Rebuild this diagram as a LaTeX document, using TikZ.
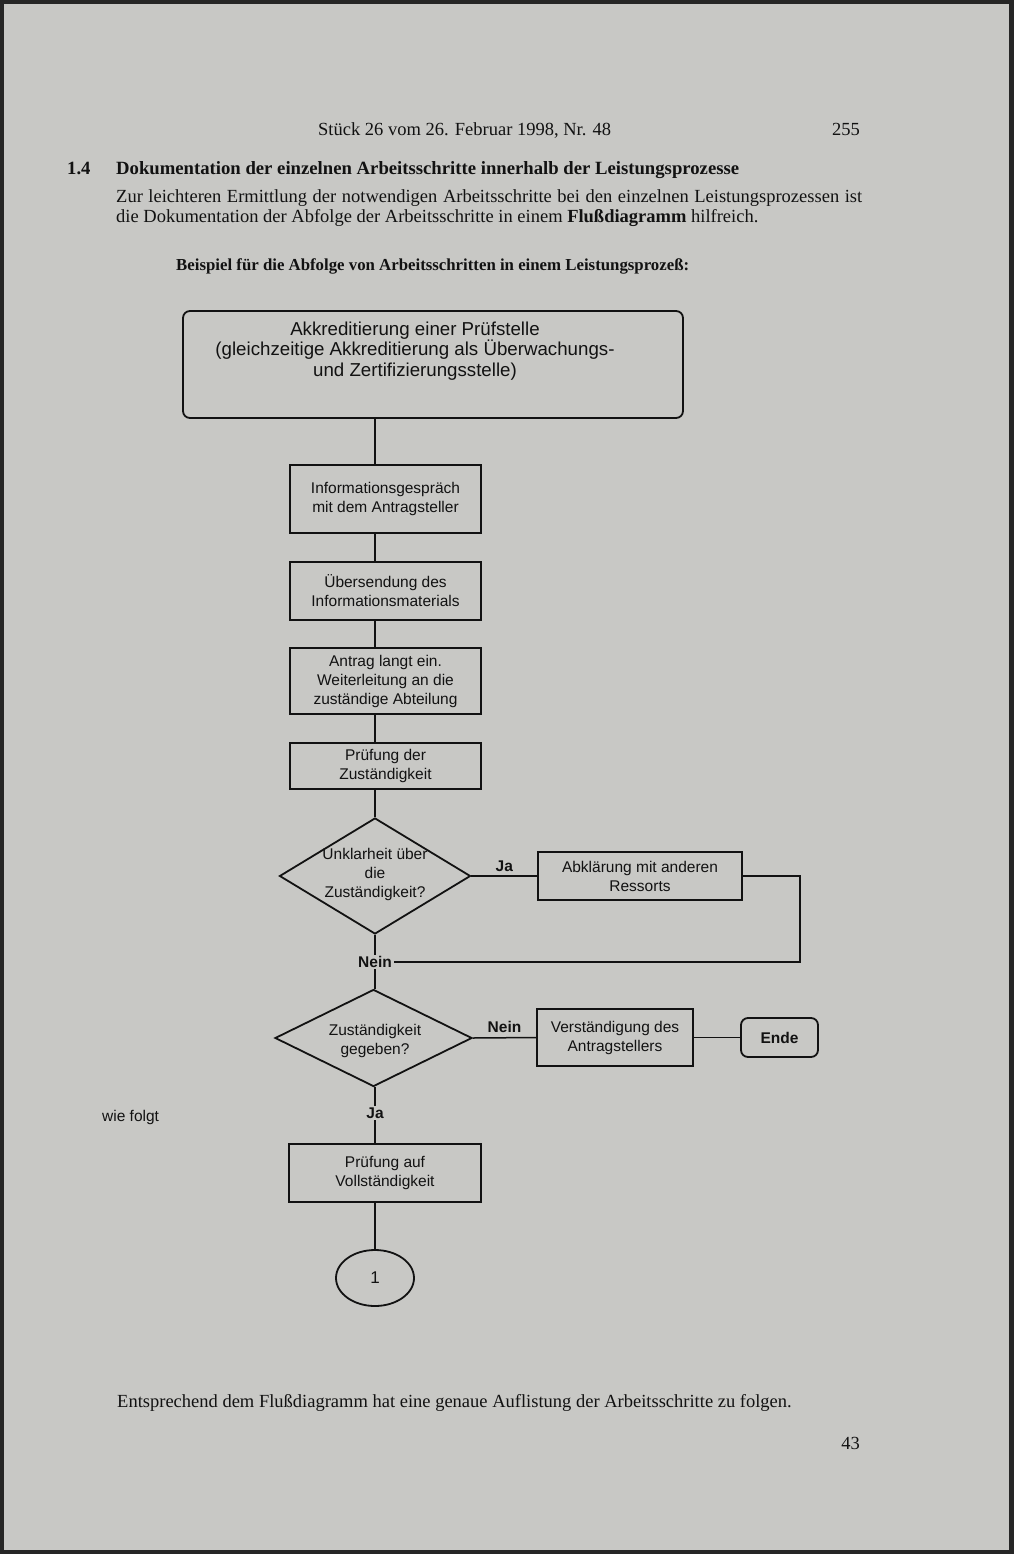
\documentclass[tikz,border=0pt]{standalone}
\usepackage{fontspec}
\setmainfont{Liberation Serif}
\newfontfamily\chartfont{Liberation Sans}
\usepackage{xcolor}
\usepackage{tikz}
\usetikzlibrary{positioning,shapes.geometric,calc}
\definecolor{paper}{RGB}{200,200,197}
\definecolor{ink}{RGB}{18,18,18}

\begin{document}
\begin{tikzpicture}[
  x=1pt, y=-1pt,
  every node/.style={text=ink},
  serif/.style={font=\fontsize{18.5}{20}\selectfont, inner sep=0pt},
  serifbf/.style={font=\fontsize{18.7}{20}\selectfont\bfseries, inner sep=0pt},
  chart/.style={font=\chartfont\fontsize{15.5}{19}\selectfont, align=center, inner sep=0pt},
  procbox/.style={chart, draw=ink, line width=1.8pt, inner sep=2pt, minimum width=191pt},
  roundbox/.style={procbox, rounded corners=7pt},
  decision/.style={diamond, draw=ink, line width=1.8pt, inner sep=0pt},
  answer/.style={font=\chartfont\fontsize{15.5}{19}\selectfont\bfseries, inner sep=1.5pt},
  flow/.style={draw=ink, line width=1.5pt}
]
\useasboundingbox (0,0) rectangle (1013,1554);
\fill[paper] (0,0) rectangle (1013,1554);
\draw[black!85, line width=8pt] (0,0) rectangle (1013,1554);

% page text
\node[serif, anchor=base west] (head) at (318,136) {Stück 26 vom 26. Februar 1998, Nr. 48};
\node[serif, anchor=base east] (pageno) at (860,136) {255};
\node[serifbf, anchor=base west] (secno) at (67,175) {1.4};
\node[serifbf, anchor=base west] (sectitle) at (116,175) {Dokumentation der einzelnen Arbeitsschritte innerhalb der Leistungsprozesse};
\node[serif, anchor=base west] (para1) at (116,203) {\makebox[746pt][s]{Zur leichteren Ermittlung der notwendigen Arbeitsschritte bei den einzelnen Leistungsprozessen ist}};
\node[serif, anchor=base west] (para2) at (116,223) {die Dokumentation der Abfolge der Arbeitsschritte in einem \textbf{Flußdiagramm} hilfreich.};
\node[serifbf, font=\fontsize{16.8}{20}\selectfont\bfseries, anchor=base west] (caption) at (176,270) {Beispiel für die Abfolge von Arbeitsschritten in einem Leistungsprozeß:};
\node[serif, anchor=base west] (footer) at (117,1407) {Entsprechend dem Flußdiagramm hat eine genaue Auflistung der Arbeitsschritte zu folgen.};
\node[serif, anchor=base east] (folio) at (860,1449) {43};

% flow chart
\node[roundbox, minimum width=500pt, minimum height=107pt] (title) at (433,364.5) {};
\node[chart, font=\chartfont\fontsize{18.7}{20.5}\selectfont] (titletext) at (415,351)
  {Akkreditierung einer Prüfstelle\\(gleichzeitige Akkreditierung als Überwachungs-\\und Zertifizierungsstelle)};

\node[procbox, minimum height=68pt] (b1) at (385.5,499) {Informationsgespräch\\mit dem Antragsteller};
\node[procbox, minimum height=58pt] (b2) at (385.5,591) {Übersendung des\\Informationsmaterials};
\node[procbox, minimum height=66pt] (b3) at (385.5,681) {Antrag langt ein.\\Weiterleitung an die\\zuständige Abteilung};
\node[procbox, minimum height=46pt] (b4) at (385.5,766) {Prüfung der\\Zuständigkeit};

\node[decision, minimum width=191pt, minimum height=116pt] (d1) at (375,876) {};
\node[chart] (d1text) at (375,874) {Unklarheit über\\die\\Zuständigkeit?};
\node[procbox, minimum width=204pt, minimum height=48pt] (abkl) at (640,876) {Abklärung mit anderen\\Ressorts};
\node[answer] (nein1) at (375,962) {Nein};

\node[decision, minimum width=197pt, minimum height=97pt] (d2) at (373.5,1038) {};
\node[chart] (d2text) at (375,1041) {Zuständigkeit\\gegeben?};
\node[procbox, minimum width=156pt, minimum height=57pt] (verst) at (615,1037.5) {Verständigung des\\Antragstellers};
\node[roundbox, font=\chartfont\fontsize{15.5}{19}\selectfont\bfseries, minimum width=77pt, minimum height=39pt] (ende) at (779.5,1037.5) {Ende};
\node[answer] (ja2) at (375,1113) {Ja};
\node[chart, anchor=west] (wiefolgt) at (102,1117) {wie folgt};

\node[procbox, minimum width=192pt, minimum height=58pt] (b5) at (385,1173) {Prüfung auf\\Vollständigkeit};
\node[ellipse, draw=ink, line width=1.8pt, chart, font=\chartfont\fontsize{17}{19}\selectfont, minimum width=78pt, minimum height=56pt] (conn) at (375,1278) {1};

% connectors
\foreach \a/\b in {title/b1, b1/b2, b2/b3, b3/b4}
  \draw[flow] (\a.south -| d1.north) -- (\b.north -| d1.north);
\draw[flow] (b4.south -| d1.north) -- (d1.north);
\draw[flow] (d1.east) -- node[answer, above=2pt] (ja1) {Ja} (abkl.west);
\draw[flow] (abkl.east) -- ++(57,0) |- (nein1.east);
\draw[flow] (d1.south) -- (nein1.north);
\draw[flow] (nein1.south) -- (d2.north -| nein1.south);
\draw[flow] (d2.east) -- node[answer, above=3pt] (nein2) {Nein} (verst.west);
\draw[flow] (verst.east) -- (ende.west);
\draw[flow] (d2.south -| ja2.north) -- (ja2.north);
\draw[flow] (ja2.south) -- (b5.north -| ja2.south);
\draw[flow] (b5.south -| conn.north) -- (conn.north);
\end{tikzpicture}
\end{document}
